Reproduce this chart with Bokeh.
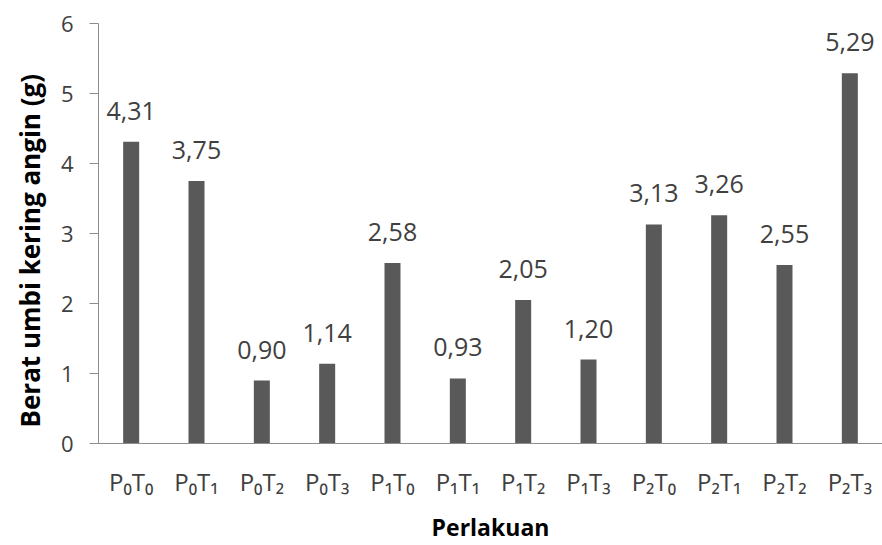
from bokeh.plotting import figure
from bokeh.models import ColumnDataSource, FactorRange, Range1d, FixedTicker, Title
from bokeh.core.properties import value
from bokeh.embed import file_html
from bokeh.resources import INLINE

categories = ["P₀T₀", "P₀T₁", "P₀T₂", "P₀T₃",
              "P₁T₀", "P₁T₁", "P₁T₂", "P₁T₃",
              "P₂T₀", "P₂T₁", "P₂T₂", "P₂T₃"]
values = [4.31, 3.75, 0.90, 1.14, 2.58, 0.93, 2.05, 1.20, 3.13, 3.26, 2.55, 5.29]
y_ticks = [0, 1, 2, 3, 4, 5, 6]
y_title = "Berat umbi kering angin (g)"
x_title = "Perlakuan"

labels = [f"{v:.2f}".replace(".", ",") for v in values]
src = ColumnDataSource(dict(cat=categories, val=values, lab=labels))

FONT = "Open Sans"
TXT = "#404040"
AX = "#8c8c8c"

p = figure(width=882, height=545, output_backend="svg", toolbar_location=None,
           x_range=FactorRange(*categories, range_padding=0),
           y_range=Range1d(0, 6),
           min_border_left=97, min_border_right=0, min_border_top=23,
           min_border_bottom=102)
p.outline_line_color = None
p.background_fill_color = "white"
p.border_fill_color = "white"
p.xgrid.grid_line_color = None
p.ygrid.grid_line_color = None

p.vbar(x="cat", top="val", width=0.245, source=src, fill_color="#595959",
       line_color=None)
p.text(x="cat", y="val", text="lab", source=src, text_align="center",
       text_baseline="alphabetic", y_offset=-31, text_font=value(FONT),
       text_font_size="25px", text_color=TXT)

ya = p.yaxis[0]
ya.ticker = FixedTicker(ticks=y_ticks)
ya.minor_tick_line_color = None
ya.major_tick_out = 9
ya.major_tick_in = 0
ya.major_tick_line_color = AX
ya.axis_line_color = AX
ya.major_label_standoff = 16
ya.major_label_text_font = FONT
ya.major_label_text_font_size = "22px"
ya.major_label_text_color = TXT

# y-axis title as a side title, starting a little above the frame bottom
p.add_layout(Title(text=y_title, align="left", offset=16, standoff=19,
                   text_font=FONT, text_font_style="bold",
                   text_font_size="26px", text_color="black"), "left")

xa = p.xaxis[0]
xa.major_tick_line_color = None
xa.minor_tick_line_color = None
xa.major_tick_out = 0
xa.axis_line_color = AX
xa.major_label_standoff = 21
xa.major_label_text_font = FONT
xa.major_label_text_font_size = "24px"
xa.major_label_text_color = TXT
xa.axis_label = x_title
xa.axis_label_standoff = 10
xa.axis_label_text_font = FONT
xa.axis_label_text_font_style = "bold"
xa.axis_label_text_font_size = "23px"
xa.axis_label_text_color = "black"

open("out.html", "w").write(file_html(p, INLINE))
